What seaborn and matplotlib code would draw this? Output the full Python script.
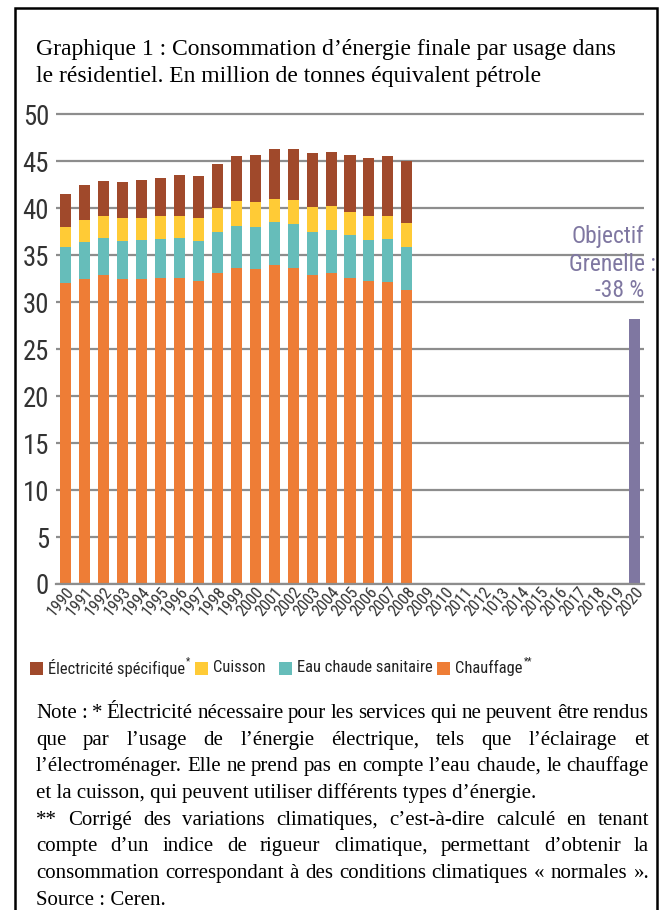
import numpy as np
import pandas as pd
import matplotlib
matplotlib.use("Agg")
import matplotlib.pyplot as plt
from matplotlib.patches import Rectangle
from matplotlib.transforms import IdentityTransform, offset_copy
from matplotlib import font_manager as fm
import seaborn as sns

# ---------------- data ----------------
years_hist = [str(y) for y in range(1990, 2009)]
year_labels = [str(y) for y in range(1990, 2013)] + ["1013"] + [str(y) for y in range(2014, 2021)]
chauffage = [32.0, 32.5, 32.9, 32.5, 32.5, 32.6, 32.6, 32.2, 33.1, 33.6, 33.5, 33.9, 33.6, 32.9, 33.1, 32.6, 32.2, 32.1, 31.3]
eau_chaude = [3.8, 3.9, 3.9, 4.0, 4.1, 4.1, 4.2, 4.3, 4.4, 4.5, 4.5, 4.6, 4.7, 4.6, 4.6, 4.5, 4.4, 4.6, 4.5]
cuisson = [2.2, 2.3, 2.3, 2.4, 2.3, 2.4, 2.4, 2.4, 2.5, 2.6, 2.6, 2.5, 2.6, 2.6, 2.5, 2.5, 2.5, 2.5, 2.6]
electricite = [3.5, 3.7, 3.8, 3.9, 4.1, 4.1, 4.3, 4.5, 4.7, 4.8, 5.0, 5.3, 5.4, 5.7, 5.8, 6.0, 6.2, 6.3, 6.6]
objectif_year = "2020"
objectif_value = 28.2
series_names = ["Électricité spécifique", "Cuisson", "Eau chaude sanitaire", "Chauffage"]
colors = {"Électricité spécifique": "#A0492B", "Cuisson": "#FFCB36",
          "Eau chaude sanitaire": "#66BDBA", "Chauffage": "#EE7D36"}
obj_color = "#7F77A1"

# ---------------- fonts ----------------
sns.set_style("white")
SERIF = ["Liberation Serif", "DejaVu Serif"]
plt.rcParams["font.family"] = ["DejaVu Sans"]


def pick_narrow():
    ttf = fm.fontManager.ttflist
    for name in ["Liberation Sans Narrow", "Roboto Condensed", "Open Sans Condensed",
                 "Noto Sans Condensed", "DejaVu Sans Condensed", "Noto Sans SemiCondensed"]:
        for f in ttf:
            if f.name == name and f.weight in (400, "normal", "regular") and f.style == "normal":
                return f.fname
    for f in ttf:
        st = str(f.stretch)
        if f.name in ("DejaVu Sans", "Noto Sans", "Open Sans", "Roboto", "Lato", "Inter") \
                and f.style == "normal" and f.weight in (400, "normal", "regular") \
                and ("condensed" in st or (st.isdigit() and int(st) < 100)):
            return f.fname
    return None


narrow_path = pick_narrow()
if narrow_path:
    NARROW_FP = fm.FontProperties(fname=narrow_path)
else:
    NARROW_FP = fm.FontProperties(family="DejaVu Sans")

W, H = 662, 910
fig = plt.figure(figsize=(W / 100, H / 100), dpi=100)
fig.patch.set_facecolor("white")
renderer = fig.canvas.get_renderer()


def fp_size(size):
    p = NARROW_FP.copy()
    p.set_size(size)
    return p


def fit_size(text, target_w, base=10.0):
    t = fig.text(0, 0, text, fontproperties=fp_size(base))
    w = t.get_window_extent(renderer).width
    t.remove()
    return base * target_w / w


def fx(x):
    return x / W


def fy(y):
    return 1 - y / H


# plot area: 0 at y=584 px, 9.4 px per unit
ytop = 50.4
ax_h = 9.4 * ytop
ax = fig.add_axes([fx(56), fy(584), 588 / W, ax_h / H])

df = pd.DataFrame({"year": years_hist, "Chauffage": chauffage, "Eau": eau_chaude,
                   "Cuisson": cuisson, "Elec": electricite})
df["c1"] = df["Chauffage"]
df["c2"] = df["c1"] + df["Eau"]
df["c3"] = df["c2"] + df["Cuisson"]
df["c4"] = df["c3"] + df["Elec"]
obj_df = pd.DataFrame({"year": [objectif_year], "v": [objectif_value]})

order = [str(y) for y in range(1990, 2021)]
bw = 0.58
for col, name in [("c4", "Électricité spécifique"), ("c3", "Cuisson"),
                  ("c2", "Eau chaude sanitaire"), ("c1", "Chauffage")]:
    sns.barplot(data=df, x="year", y=col, order=order, color=colors[name], saturation=1,
                width=bw, errorbar=None, ax=ax, linewidth=0)
sns.barplot(data=obj_df, x="year", y="v", order=order, color=obj_color, saturation=1,
            width=bw, errorbar=None, ax=ax, linewidth=0)

ax.set_xlim(-0.5, 30.5)
ax.set_ylim(0, ytop)
ax.set_xlabel("")
ax.set_ylabel("")
ax.set_yticks(range(0, 51, 5))
ax.yaxis.grid(True, color="#8d8d8d", linewidth=1.6)
ax.set_axisbelow(True)
for s in ["top", "right", "left"]:
    ax.spines[s].set_visible(False)
ax.spines["bottom"].set_color("#8d8d8d")
ax.spines["bottom"].set_linewidth(1.6)

ytick_size = fit_size("50", 21) * 1.25
ax.tick_params(axis="y", length=0, pad=5, labelcolor="#333333")
for lab in ax.get_yticklabels():
    lab.set_fontproperties(fp_size(ytick_size))

ax.set_xticks(range(31))
ax.set_xticklabels(year_labels, rotation=50, ha="right", rotation_mode="anchor",
                   color="#333333")
xtick_size = fit_size("1990", 27) * 1.2
for lab in ax.get_xticklabels():
    lab.set_fontproperties(fp_size(xtick_size))
    lab.set_transform(offset_copy(lab.get_transform(), fig=fig, x=5, y=-8, units="dots"))
ax.set_xticks(np.arange(-0.5, 31, 1), minor=True)
ax.tick_params(axis="x", which="major", length=0, pad=0)
ax.tick_params(axis="x", which="minor", length=5, width=1, color="#8d8d8d")

# Objectif text
obj_size = fit_size("Objectif", 61) * 1.18
ax.text(30.5, 37.0, "Objectif", ha="right", va="center", color=obj_color,
        fontproperties=fp_size(obj_size), clip_on=False)
ax.text(31.1, 34.0, "Grenelle :", ha="right", va="center", color=obj_color,
        fontproperties=fp_size(obj_size), clip_on=False)
ax.text(30.5, 31.2, "-38 %", ha="right", va="center", color=obj_color,
        fontproperties=fp_size(obj_size), clip_on=False)

# border
fig.add_artist(Rectangle((fx(15), fy(925)), (657 - 15) / W, (925 - 8) / H,
                         transform=fig.transFigure, fill=False, edgecolor="black",
                         linewidth=1.8, clip_on=False))

# title
fig.text(fx(36), fy(55), "Graphique 1 : Consommation d’énergie finale par usage dans",
         family=SERIF, fontsize=17, va="baseline", ha="left", color="black")
fig.text(fx(36), fy(82), "le résidentiel. En million de tonnes équivalent pétrole",
         family=SERIF, fontsize=17, va="baseline", ha="left", color="black")

# legend
leg_y = 668
leg_size = fit_size("Électricité spécifique", 123) * 1.1
leg_items = [(30, "Électricité spécifique", "*"), (195, "Cuisson", ""),
             (279, "Eau chaude sanitaire", ""), (437, "Chauffage", "**")]
for x0, name, star in leg_items:
    fig.add_artist(Rectangle((x0, H - leg_y - 6.5), 13, 13, transform=IdentityTransform(),
                             facecolor=colors[name], edgecolor="none"))
    t = fig.text(x0 + 18, H - leg_y, name, transform=IdentityTransform(),
                 fontproperties=fp_size(leg_size), va="center", ha="left", color="#222222")
    if star:
        bb = t.get_window_extent(renderer)
        fig.text(bb.x1 + 1, H - leg_y + 7, star, transform=IdentityTransform(),
                 fontproperties=fp_size(leg_size * 0.6), va="center", ha="left",
                 color="#222222")

# notes (justified)
note_lines = [
    ("Note : * Électricité nécessaire pour les services qui ne peuvent être rendus", True),
    ("que par l’usage de l’énergie électrique, tels que l’éclairage et", True),
    ("l’électroménager. Elle ne prend pas en compte l’eau chaude, le chauffage", True),
    ("et la cuisson, qui peuvent utiliser différents types d’énergie.", False),
    ("** Corrigé des variations climatiques, c’est-à-dire calculé en tenant", True),
    ("compte d’un indice de rigueur climatique, permettant d’obtenir la", True),
    ("consommation correspondant à des conditions climatiques « normales ».", True),
    ("Source : Ceren.", False),
]
baselines = [718, 745, 771, 798, 825, 851, 878, 905]
x0, x1 = 36, 649
fs_note = 15.0
for (line, just), yb in zip(note_lines, baselines):
    if not just:
        fig.text(x0, H - yb, line, transform=IdentityTransform(), family=SERIF,
                 fontsize=fs_note, va="baseline", ha="left", color="black")
        continue
    words = line.split(" ")
    ts = [fig.text(0, H - yb, w, transform=IdentityTransform(), family=SERIF,
                   fontsize=fs_note, va="baseline", ha="left", color="black") for w in words]
    widths = [t.get_window_extent(renderer).width for t in ts]
    gap = (x1 - x0 - sum(widths)) / (len(words) - 1)
    x = x0
    for t, wd in zip(ts, widths):
        t.set_x(x)
        x += wd + gap

fig.savefig("out.png", dpi=100)
